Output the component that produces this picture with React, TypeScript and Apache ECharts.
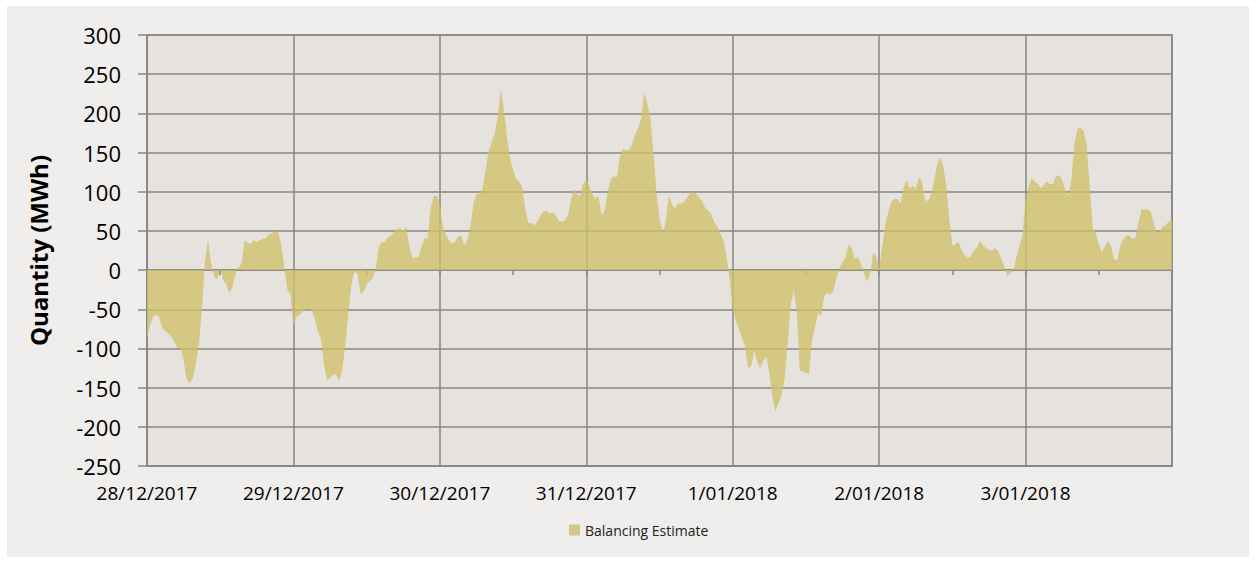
import React, { useEffect, useRef } from "react";
import * as echarts from "echarts";

// Half-hourly balancing estimate (MWh), one array per day
const day1 = [-87,-70,-60,-57,-60,-74,-78,-81,-85,-92,-100,-98,-115,-140,-144,-138,-120,-95,-50,10,38,8,-8,-12,2,-13,-18,-30,-22,-5,3,8,38,35,33,38,36,38,40,41,46,47,50,48,32,5,-25,-30];
const day2 = [-71,-60,-57,-53,-50,-50,-52,-62,-78,-88,-120,-140,-138,-134,-133,-142,-128,-95,-55,-18,-2,-5,-30,-28,-18,-14,-10,2,30,36,36,42,44,49,53,53,51,55,30,15,16,17,30,41,40,80,95,95];
const day3 = [84,55,45,38,34,36,43,44,32,38,55,85,97,97,104,128,152,163,175,196,231,205,170,143,128,116,113,106,78,60,60,57,62,70,75,75,72,74,70,63,62,64,70,90,104,96,95,110];
const day4 = [115,107,97,91,95,70,75,100,115,120,118,145,155,153,153,160,173,181,194,226,212,194,150,100,66,48,60,95,85,78,85,85,87,92,98,100,97,93,88,79,76,71,61,55,46,38,18,-12];
const day5 = [-50,-65,-75,-87,-95,-125,-123,-103,-116,-126,-116,-110,-131,-162,-180,-170,-160,-140,-95,-45,-26,-50,-128,-130,-131,-133,-90,-72,-55,-58,-33,-29,-31,-27,-10,3,10,17,33,28,14,16,9,-3,-15,-5,22,18];
const day6 = [3,30,58,74,87,91,90,85,105,115,104,108,103,118,113,90,88,97,112,135,143,133,108,65,31,33,36,26,19,16,17,25,28,37,32,28,26,25,28,25,14,6,-8,-3,-2,17,31,45];
const day7 = [89,107,117,113,110,104,109,113,110,110,120,121,115,103,95,115,160,180,182,178,160,110,55,47,33,23,30,37,30,14,12,31,39,44,44,40,41,60,78,77,78,74,60,47,50,56,58,62];
const endValue = [64];

const dayLabels = ["28/12/2017", "29/12/2017", "30/12/2017", "31/12/2017", "1/01/2018", "2/01/2018", "3/01/2018", ""];
const seriesName = "Balancing Estimate";
const yTitle = "Quantity (MWh)";

const FONT = "'Open Sans', sans-serif";
const GRID = "#878787";

export default function App() {
  const ref = useRef<HTMLDivElement>(null);
  useEffect(() => {
    if (!ref.current) return;
    const chart = echarts.init(ref.current, undefined, { renderer: "svg" });
    const all = [...day1, ...day2, ...day3, ...day4, ...day5, ...day6, ...day7, ...endValue];
    const data = all.map((v, i) => [i * 0.5, v]);
    chart.setOption({
      animation: false,
      backgroundColor: "#ffffff",
      graphic: [
        { type: "rect", z: -10, shape: { x: 7, y: 6, width: 1242, height: 551 }, style: { fill: "#efeeec" }, silent: true },
      ],
      grid: {
        left: 147, right: 83, top: 35, bottom: 97,
        show: true, backgroundColor: "#e6e3df", borderColor: GRID, borderWidth: 1.5,
      },
      legend: {
        data: [seriesName], left: 564, top: 518, icon: "rect", itemWidth: 11, itemHeight: 11, itemGap: 5,
        textStyle: { fontFamily: FONT, fontSize: 14, color: "#222" },
      },
      xAxis: [
        {
          type: "value", min: 0, max: 168, interval: 24, position: "bottom",
          axisLine: { onZero: false, lineStyle: { color: GRID, width: 1.5 } },
          axisTick: { show: false },
          splitLine: { show: true, lineStyle: { color: GRID, width: 1.5 } },
          axisLabel: {
            fontFamily: FONT, fontSize: 19, color: "#000", margin: 17,
            formatter: (v: number) => dayLabels[Math.round(v / 24)] ?? "",
          },
        },
        {
          type: "value", min: 0, max: 168, interval: 12, position: "bottom",
          axisLine: { show: true, onZero: true, lineStyle: { color: GRID, width: 1.5 } },
          axisTick: { show: true, length: 5, lineStyle: { color: GRID, width: 1.5 } },
          splitLine: { show: false },
          axisLabel: { show: false },
        },
      ],
      yAxis: {
        type: "value", min: -250, max: 300, interval: 50,
        name: yTitle, nameLocation: "middle", nameGap: 97, nameRotate: 90,
        nameTextStyle: { fontFamily: FONT, fontSize: 24, fontWeight: "bold", color: "#000" },
        axisLine: { show: true, lineStyle: { color: GRID, width: 1.5 } },
        axisTick: { show: true, length: 9, lineStyle: { color: GRID, width: 1.5 } },
        splitLine: { show: true, lineStyle: { color: GRID, width: 1.5 } },
        axisLabel: { fontFamily: FONT, fontSize: 22, color: "#000", margin: 26 },
      },
      series: [
        {
          name: seriesName, type: "line", xAxisIndex: 0, data,
          showSymbol: false, symbol: "none",
          itemStyle: { color: "#d3c986" },
          lineStyle: { width: 0, color: "#d3c986" },
          areaStyle: { color: "rgba(206,192,104,0.78)", opacity: 1, origin: 0 },
        },
      ],
    });
    return () => chart.dispose();
  }, []);
  return <div ref={ref} style={{ position: "fixed", left: 0, top: 0, width: 1255, height: 563 }} />;
}
